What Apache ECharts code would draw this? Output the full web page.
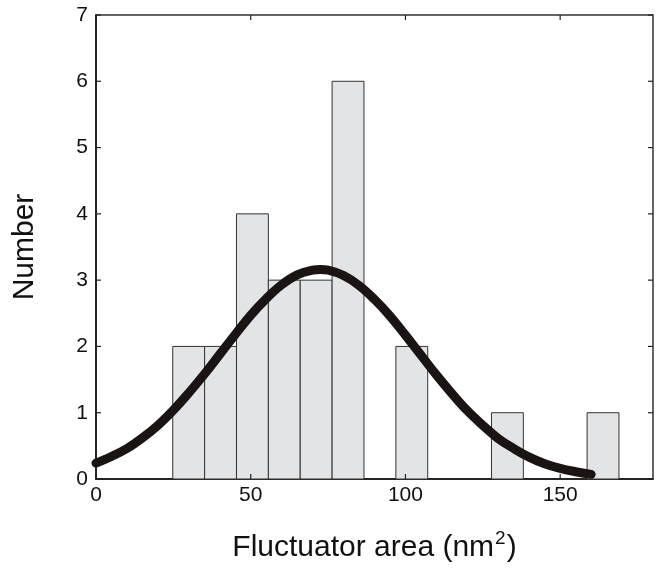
<!DOCTYPE html>
<html>
<head>
<meta charset="utf-8">
<script src="https://cdn.jsdelivr.net/npm/echarts@6/dist/echarts.min.js"></script>
<style>
html,body{margin:0;padding:0;background:#fff;}
#chart{width:669px;height:569px;}
</style>
</head>
<body>
<div id="chart"></div>
<script>
// Histogram bin edges (nm^2) and counts
var binEdges = [24.8, 35.1, 45.4, 55.7, 66.0, 76.3, 86.6, 96.9, 107.2, 117.5, 127.8, 138.1, 148.4, 158.7, 169.0];
var binCounts = [2, 2, 4, 3, 3, 6, 0, 2, 0, 0, 1, 0, 0, 1];
// Fitted curve points
var curveX = [0, 5, 10, 15, 20, 25, 30, 35, 40, 45, 50, 55, 60, 65, 70, 72.5, 75, 80, 85, 90, 95, 100, 105, 110, 115, 120, 125, 130, 135, 140, 145, 150, 155, 160];
var curveY = [0.24, 0.34, 0.46, 0.62, 0.81, 1.04, 1.30, 1.58, 1.88, 2.18, 2.47, 2.72, 2.93, 3.08, 3.15, 3.16, 3.15, 3.07, 2.92, 2.71, 2.46, 2.17, 1.87, 1.57, 1.29, 1.03, 0.81, 0.61, 0.46, 0.33, 0.23, 0.16, 0.11, 0.07];
var xTicks = [0, 50, 100, 150];
var yTicks = [0, 1, 2, 3, 4, 5, 6, 7];
var xMax = 180, yMax = 7;

var barData = [];
for (var i = 0; i < binCounts.length; i++) {
  if (binCounts[i] > 0) barData.push([binEdges[i], binEdges[i + 1], binCounts[i]]);
}
var lineData = curveX.map(function (x, i) { return [x, curveY[i]]; });

var chart = echarts.init(document.getElementById('chart'), null, {renderer: 'canvas'});
var font = 'Liberation Sans, Arial, Helvetica, sans-serif';
var TL = 5;
chart.setOption({
  animation: false,
  backgroundColor: '#fff',
  grid: {left: 96, right: 16, top: 15, bottom: 88, containLabel: false,
    show: true, borderColor: '#333', borderWidth: 1.5, backgroundColor: 'transparent'},
  xAxis: {
    type: 'value', min: 0, max: xMax, interval: 50,
    axisLine: {show: true, onZero: false, lineStyle: {color: '#111', width: 1.5}},
    axisTick: {show: false},
    splitLine: {show: false},
    axisLabel: {show: true, color: '#111', fontSize: 21, fontFamily: font, margin: 6,
      formatter: function (v) { return xTicks.indexOf(v) >= 0 ? String(v) : ''; }},
    name: '{a|Fluctuator area (nm}{s|2}{a|)}',
    nameLocation: 'middle', nameGap: 50,
    nameTextStyle: {rich: {
      a: {fontSize: 30, fontFamily: font, color: '#111', verticalAlign: 'bottom', lineHeight: 34},
      s: {fontSize: 19, fontFamily: font, color: '#111', verticalAlign: 'top', padding: [0, 1, 16, 1], lineHeight: 34}
    }}
  },
  yAxis: {
    type: 'value', min: 0, max: yMax, interval: 1,
    axisLine: {show: true, lineStyle: {color: '#111', width: 1.5}},
    axisTick: {show: false},
    splitLine: {show: false},
    axisLabel: {show: true, color: '#111', fontSize: 21, fontFamily: font, margin: 8,
      formatter: function (v) { return yTicks.indexOf(v) >= 0 ? String(v) : ''; }},
    name: 'Number', nameLocation: 'middle', nameGap: 56, nameRotate: 90,
    nameTextStyle: {fontSize: 30, fontFamily: font, color: '#111'}
  },
  series: [
    {
      type: 'custom',
      data: barData,
      encode: {x: [0, 1], y: 2},
      renderItem: function (params, api) {
        var p0 = api.coord([api.value(0), 0]);
        var p1 = api.coord([api.value(1), api.value(2)]);
        return {
          type: 'rect',
          shape: {x: p0[0], y: p1[1], width: p1[0] - p0[0], height: p0[1] - p1[1]},
          style: {fill: '#e3e4e6', stroke: '#333', lineWidth: 1}
        };
      },
      z: 2
    },
    {
      type: 'line',
      data: lineData,
      smooth: 0.4,
      showSymbol: false,
      lineStyle: {color: '#1a1414', width: 9, cap: 'round', join: 'round'},
      z: 3
    },
    {
      // inward tick marks on all four sides, placed via the axis scales
      type: 'custom',
      data: [[0, 0]],
      silent: true,
      renderItem: function (params, api) {
        var children = [];
        var st = {stroke: '#222', lineWidth: 1.2};
        xTicks.forEach(function (v) {
          var b = api.coord([v, 0]);
          var t = api.coord([v, yMax]);
          children.push({type: 'line', shape: {x1: b[0], y1: b[1], x2: b[0], y2: b[1] - TL}, style: st});
          children.push({type: 'line', shape: {x1: t[0], y1: t[1], x2: t[0], y2: t[1] + TL}, style: st});
        });
        yTicks.forEach(function (v) {
          var l = api.coord([0, v]);
          var r = api.coord([xMax, v]);
          children.push({type: 'line', shape: {x1: l[0], y1: l[1], x2: l[0] + TL, y2: l[1]}, style: st});
          children.push({type: 'line', shape: {x1: r[0], y1: r[1], x2: r[0] - TL, y2: r[1]}, style: st});
        });
        return {type: 'group', children: children};
      },
      z: 4
    }
  ]
});
</script>
</body>
</html>
